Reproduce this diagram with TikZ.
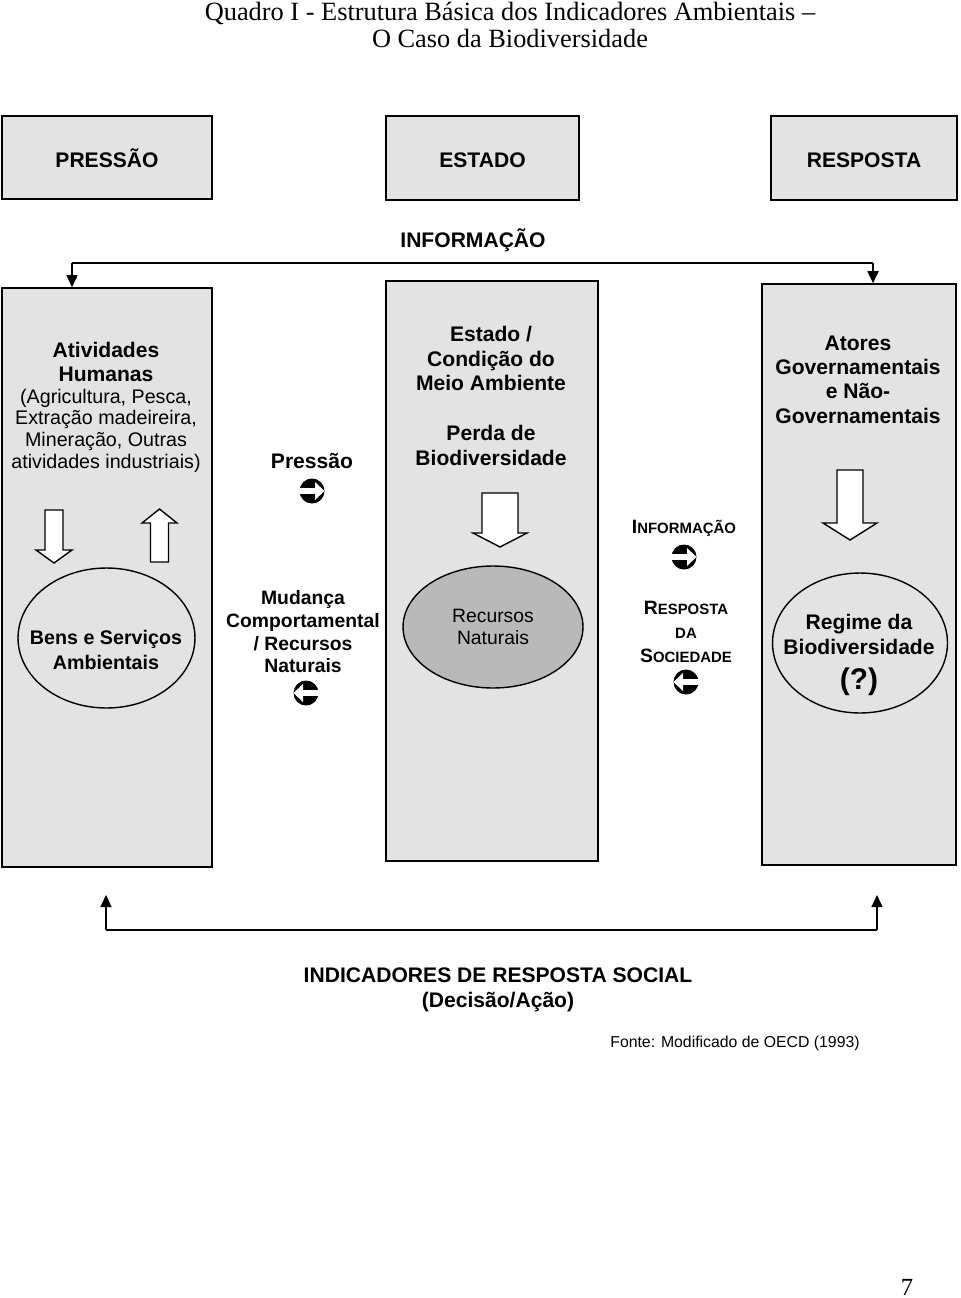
\documentclass[tikz,border=0pt]{standalone}
\usepackage{fontspec}
\setmainfont{Liberation Sans}
\newfontfamily\titlefont{Liberation Serif}
\usetikzlibrary{shapes.geometric,arrows.meta}
\definecolor{boxgray}{RGB}{227,227,227}
\definecolor{ellgray}{RGB}{185,185,185}
\newcommand{\fakesc}[2]{{\fontsize{11}{13}\selectfont #1}{\fontsize{8.5}{13}\selectfont #2}}
\tikzset{
  topbox/.style={rectangle, draw, line width=1.1pt, fill=boxgray, text height=1.1em, text depth=0pt, font=\bfseries\fontsize{12}{14}\selectfont},
  bigbox/.style={rectangle, draw, line width=1pt, fill=boxgray},
  oval/.style={ellipse, draw, line width=0.8pt},
  lbl/.style={align=center, font=\bfseries\fontsize{12}{13.8}\selectfont},
  txt/.style={align=center, font=\fontsize{11.2}{12.3}\selectfont},
  blockarrow/.style={draw, fill=white, line width=0.8pt},
  tip/.style={-{Triangle[width=0.22cm,length=0.24cm]}},
  rarrow/.pic={
    \fill (0,0) circle [radius=12.5];
    \fill[white] (-13,-2.8) -- (3,-2.8) -- (3,-9) -- (12.5,0) -- (3,9) -- (3,2.8) -- (-13,2.8) -- cycle;
  }
}
\begin{document}
\begin{tikzpicture}[x=0.02cm, y=-0.02cm]
  \useasboundingbox (0,0) rectangle (960,1298);
  % Title
  \node (titulo) [align=center, font=\titlefont\fontsize{15}{14.9}\selectfont] at (510,25) {Quadro I - Estrutura Básica dos Indicadores Ambientais –\\O Caso da Biodiversidade};
  % Top boxes
  \node (pressao) [topbox, minimum width=4.2cm, minimum height=1.66cm] at (107,157.5) {PRESSÃO};
  \node (estado) [topbox, minimum width=3.86cm, minimum height=1.68cm] at (482.5,158) {ESTADO};
  \node (resposta) [topbox, minimum width=3.72cm, minimum height=1.68cm] at (864,158) {RESPOSTA};
  \node (info) [lbl] at (473,240) {INFORMAÇÃO};
  % Columns
  \node (atividades) [bigbox, minimum width=4.2cm, minimum height=11.58cm] at (107,577.5) {};
  \node (condicao) [bigbox, minimum width=4.24cm, minimum height=11.6cm] at (492,571) {};
  \node (atores) [bigbox, minimum width=3.88cm, minimum height=11.62cm] at (859,574.5) {};
  % Information line
  \coordinate (infoL) at (72,263);
  \coordinate (infoR) at (873,263);
  \draw[line width=1pt] (infoL) -- (infoR);
  \draw[line width=1pt, tip] (infoL) -- (infoL |- atividades.north);
  \draw[line width=1pt, tip] (infoR) -- (infoR |- atores.north);
  % Column texts
  \node (ativtit) [lbl] at (106,362) {Atividades\\Humanas};
  \node (ativdesc) [txt] at (106,430.5) {(Agricultura, Pesca,\\Extração madeireira,\\Mineração, Outras\\atividades industriais)};
  \node (pressaotxt) [lbl] at (312,461) {Pressão};
  \pic at (312,491) {rarrow};
  \node (esttit) [lbl] at (491,358.5) {Estado /\\Condição do\\Meio Ambiente};
  \node (perda) [lbl] at (491,445.5) {Perda de\\Biodiversidade};
  \node (atortxt) [lbl] at (858,379.5) {Atores\\Governamentais\\e Não-\\Governamentais};
  % Block arrows
  \draw[blockarrow] (45,510) -- (63,510) -- (63,550) -- (72,550) -- (54,563) -- (36,550) -- (45,550) -- cycle;
  \draw[blockarrow] (150.5,562) -- (168.5,562) -- (168.5,523) -- (177,523) -- (159.5,509) -- (142,523) -- (150.5,523) -- cycle;
  \draw[blockarrow] (482,493) -- (518,493) -- (518,533) -- (527,533) -- (500,547) -- (473,533) -- (482,533) -- cycle;
  \draw[blockarrow] (837,470) -- (863,470) -- (863,523) -- (877,523) -- (850,540) -- (823,523) -- (837,523) -- cycle;
  % Ellipses
  \node (bens) [oval, minimum width=3.54cm, minimum height=2.8cm] at (106.5,638) {};
  \node (benstxt) [lbl, font=\bfseries\fontsize{11.2}{14}\selectfont] at (106,650) {Bens e Serviços\\Ambientais};
  \node (recursos) [oval, fill=ellgray, minimum width=3.6cm, minimum height=2.44cm, font=\fontsize{11}{13}\selectfont, align=center] at (493,627) {Recursos\\Naturais};
  \node (regime) [oval, minimum width=3.5cm, minimum height=2.8cm] at (860,643) {};
  \node (regimetxt) [lbl] at (859,634.5) {Regime da\\Biodiversidade};
  \node (interr) [font=\bfseries\fontsize{17}{20}\selectfont] at (859,682) {(?)};
  % Middle labels
  \node (mudanca) [lbl, font=\bfseries\fontsize{11}{12.9}\selectfont] at (303,632) {Mudança\\Comportamental\\/ Recursos\\Naturais};
  \pic[xscale=-1] at (306,693) {rarrow};
  \node (infosoc) [lbl] at (684,528) {\fakesc{I}{NFORMAÇÃO}};
  \pic at (684,557) {rarrow};
  \node (respsoc) [lbl] at (686,632) {\fakesc{R}{ESPOSTA}\\\fakesc{}{DA}\\\fakesc{S}{OCIEDADE}};
  \pic[xscale=-1] at (686,682) {rarrow};
  % Bottom bracket
  \coordinate (retL) at (106,930);
  \coordinate (retR) at (877,930);
  \coordinate (retLtop) at (106,895);
  \coordinate (retRtop) at (877,895);
  \draw[line width=1.1pt] (retL) -- (retR);
  \draw[line width=0.8pt, tip] (retL) -- (retLtop);
  \draw[line width=0.8pt, tip] (retR) -- (retRtop);
  \node (indic) [lbl, font=\bfseries\fontsize{12}{14.2}\selectfont] at (498,989.5) {INDICADORES DE RESPOSTA SOCIAL\\(Decisão/Ação)};
  \node (fonte) [font=\fontsize{9}{11}\selectfont] at (735,1043) {Fonte: Modificado de OECD (1993)};
  \node (pagina) [font=\titlefont\fontsize{14}{16}\selectfont] at (907,1287) {7};
\end{tikzpicture}
\end{document}
